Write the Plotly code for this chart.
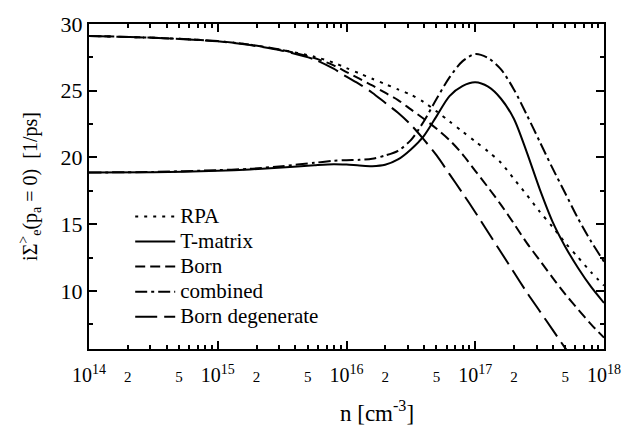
import plotly.graph_objects as go

# electron density grid, log10(n / cm^-3)
log_n = [14.0, 14.5, 15.0, 15.25, 15.5, 15.75, 15.9, 16.0, 16.1, 16.2, 16.3, 16.4,
         16.5, 16.6, 16.7, 16.8, 16.9, 17.0, 17.1, 17.2, 17.3, 17.4, 17.5, 17.6,
         17.7, 17.8, 17.9, 18.0]

# scattering rates i Sigma^>_e(p_a = 0) in 1/ps
rpa = [29.10, 28.97, 28.72, 28.45, 28.05, 27.55, 27.10, 26.70, 26.30, 25.90, 25.50, 25.10,
       24.70, 24.15, 23.45, 22.70, 21.95, 21.20, 20.45, 19.60, 18.40, 17.20, 15.95, 14.80,
       13.60, 12.50, 11.40, 10.40]
t_matrix = [18.87, 18.90, 19.00, 19.10, 19.25, 19.42, 19.50, 19.47, 19.40, 19.35, 19.45, 19.85,
            20.60, 21.60, 23.10, 24.60, 25.35, 25.63, 25.30, 24.40, 22.90, 20.40, 17.65, 15.20,
            13.30, 11.70, 10.30, 9.10]
born = [29.10, 28.97, 28.72, 28.45, 28.05, 27.45, 26.90, 26.40, 25.90, 25.40, 24.85, 24.30,
        23.60, 22.90, 22.15, 21.30, 20.25, 19.00, 17.75, 16.45, 15.05, 13.60, 12.30, 11.00,
        9.75, 8.60, 7.50, 6.50]
combined = [18.87, 18.92, 19.05, 19.15, 19.35, 19.60, 19.75, 19.80, 19.82, 19.90, 20.15, 20.50,
            21.30, 22.70, 24.40, 26.00, 27.20, 27.75, 27.45, 26.60, 25.10, 23.20, 21.20, 19.20,
            17.30, 15.40, 13.70, 12.20]
born_degenerate = [29.10, 28.97, 28.70, 28.42, 28.00, 27.35, 26.65, 26.05, 25.50, 24.85, 24.10, 23.35,
                   22.45, 21.35, 20.15, 18.75, 17.35, 15.90, 14.40, 12.90, 11.40, 9.90, 8.50, 7.10,
                   5.70, 4.35, None, None]

n = [10 ** v for v in log_n]

series = [
    ("RPA", rpa, "3px,6px"),
    ("T-matrix", t_matrix, "solid"),
    ("Born", born, "10px,5px"),
    ("combined", combined, "12px,4px,3px,4px"),
    ("Born degenerate", born_degenerate, "22px,7px"),
]

fig = go.Figure()
for name, vals, dash in series:
    fig.add_trace(go.Scatter(
        x=n, y=vals, name=f"<span style='font-size:21px'>{name}</span>", mode="lines",
        line=dict(color="black", width=2, dash=dash, shape="spline", smoothing=0.8),
        hoverinfo="skip",
    ))

# x tick marks: every integer multiple in each decade, labelled at 1, 2 and 5
decades = [14, 15, 16, 17]
tickvals, ticktext = [], []
for d in decades:
    for k in range(1, 10):
        tickvals.append(k * 10 ** d)
        if k == 1:
            ticktext.append(f"10<sup>{d}</sup>")
        elif k in (2, 5):
            ticktext.append(f"<span style='font-size:15px'>{k}</span>")
        else:
            ticktext.append("")
tickvals.append(10 ** 18)
ticktext.append("10<sup>18</sup>")
decade_ticks = [10 ** d for d in range(14, 19)]

# carrier trace for the longer decade tick marks
fig.add_trace(go.Scatter(x=[1e14], y=[None], xaxis="x2", showlegend=False,
                         hoverinfo="skip", mode="lines"))

fig.update_layout(
    width=640, height=427,
    margin=dict(l=89, r=36, t=19, b=78),
    paper_bgcolor="white", plot_bgcolor="white",
    font=dict(family="Liberation Serif", color="black", size=20),
    showlegend=True,
    legend=dict(x=0.08, y=0.462, xanchor="left", yanchor="top",
                bgcolor="rgba(0,0,0,0)", font=dict(size=17), tracegroupgap=0,
                itemwidth=40),
    xaxis=dict(
        type="log", range=[14, 18], tickmode="array", tickvals=tickvals, ticktext=ticktext,
        tickangle=0, ticks="inside", ticklen=4, tickwidth=1.5, tickcolor="black",
        showline=True, linewidth=2, linecolor="black", mirror="ticks",
        showgrid=False, zeroline=False, tickfont=dict(size=20), ticklabelstandoff=7,
    ),
    xaxis2=dict(
        type="log", range=[14, 18], overlaying="x", side="bottom", anchor="y",
        tickmode="array", tickvals=decade_ticks, showticklabels=False,
        ticks="inside", ticklen=8, tickwidth=1.5, tickcolor="black",
        showline=True, linewidth=2, linecolor="black", mirror="ticks",
        showgrid=False, zeroline=False,
    ),
    yaxis=dict(
        range=[5.65, 30], tickmode="linear", tick0=0, dtick=5,
        ticks="inside", ticklen=8, tickwidth=1.5, tickcolor="black",
        minor=dict(dtick=2.5, tick0=0, ticks="inside", ticklen=4, tickcolor="black"),
        showline=True, linewidth=2, linecolor="black", mirror="ticks",
        showgrid=False, zeroline=False, tickfont=dict(size=22),
        title=dict(text="iΣ<sup>&gt;</sup><sub>e</sub>(p<sub>a</sub> = 0)\u00a0 [1/ps]",
                   font=dict(size=20), standoff=18),
    ),
    annotations=[dict(
        text="n [cm<sup>-3</sup>]", xref="paper", yref="paper", x=0.56, y=0,
        xanchor="center", yanchor="top", yshift=-46, showarrow=False,
        font=dict(size=23),
    )],
)

fig.write_html("out.html")
